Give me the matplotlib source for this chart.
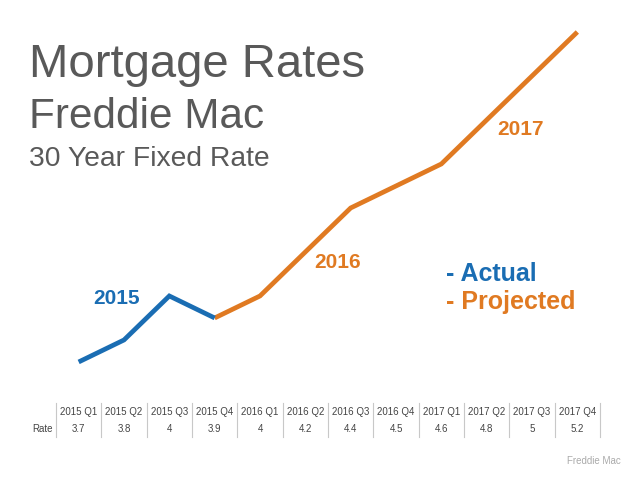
import matplotlib
matplotlib.use("Agg")
import matplotlib.pyplot as plt
from matplotlib.lines import Line2D

plt.rcParams['font.family'] = ['Liberation Sans', 'DejaVu Sans']

quarters = ["2015 Q1", "2015 Q2", "2015 Q3", "2015 Q4", "2016 Q1", "2016 Q2",
            "2016 Q3", "2016 Q4", "2017 Q1", "2017 Q2", "2017 Q3", "2017 Q4"]
rates = [3.7, 3.8, 4, 3.9, 4, 4.2, 4.4, 4.5, 4.6, 4.8, 5, 5.2]
rate_labels = ["3.7", "3.8", "4", "3.9", "4", "4.2", "4.4", "4.5", "4.6", "4.8", "5", "5.2"]
n_actual = 4  # first four quarters are actual

BLUE = "#1a6db3"
ORANGE = "#e07a22"
GRAY = "#595959"

W, H = 638, 479
fig = plt.figure(figsize=(W / 100, H / 100), dpi=100)

def fx(px):
    return px / W

def fy(py):
    return 1 - py / H

ax_left, ax_right = 56, 600
ax_top, ax_bot = 20, 380
ax = fig.add_axes([fx(ax_left), fy(ax_bot), fx(ax_right - ax_left), (ax_bot - ax_top) / H])
ax.set_xlim(-0.5, len(quarters) - 0.5)
ax.set_ylim(3.618, 5.2545)
ax.axis('off')

xs = list(range(len(quarters)))
ax.plot(xs[n_actual - 1:], rates[n_actual - 1:], color=ORANGE, lw=3.4,
        solid_capstyle='butt', solid_joinstyle='miter')
ax.plot(xs[:n_actual], rates[:n_actual], color=BLUE, lw=3.4,
        solid_capstyle='butt', solid_joinstyle='miter')

# Titles
fig.text(fx(29), fy(77), "Mortgage Rates", fontsize=34, color=GRAY, ha='left', va='baseline')
fig.text(fx(29), fy(128), "Freddie Mac", fontsize=30.4, color=GRAY, ha='left', va='baseline')
fig.text(fx(29), fy(166), "30 Year Fixed Rate", fontsize=20.3, color=GRAY, ha='left', va='baseline')

# Year labels
fig.text(fx(117), fy(298), "2015", fontsize=15, fontweight='bold', color=BLUE, ha='center', va='center')
fig.text(fx(338), fy(263), "2016", fontsize=15, fontweight='bold', color=ORANGE, ha='center', va='center')
fig.text(fx(521), fy(129), "2017", fontsize=15, fontweight='bold', color=ORANGE, ha='center', va='center')

# Legend text
fig.text(fx(446), fy(274), "- Actual", fontsize=18, fontweight='bold', color=BLUE, ha='left', va='center')
fig.text(fx(446), fy(302), "- Projected", fontsize=18, fontweight='bold', color=ORANGE, ha='left', va='center')

# Data table
col_w = (ax_right - ax_left) / len(quarters)
tab_top, tab_bot = 403, 437
for i in range(len(quarters) + 1):
    x = ax_left + i * col_w
    fig.add_artist(Line2D([fx(x), fx(x)], [fy(tab_top), fy(tab_bot)],
                          color="#c8c8c8", lw=0.8))
for i, (q, r) in enumerate(zip(quarters, rate_labels)):
    cx = ax_left + (i + 0.5) * col_w
    fig.text(fx(cx), fy(412), q, fontsize=7, color="#444444", ha='center', va='center')
    fig.text(fx(cx), fy(429), r, fontsize=7, color="#444444", ha='center', va='center')
fig.text(fx(53), fy(429), "Rate", fontsize=7, color="#444444", ha='right', va='center')

fig.text(fx(621), fy(461), "Freddie Mac", fontsize=7, color="#aaaaaa", ha='right', va='center')

fig.savefig("out.png", dpi=100)
